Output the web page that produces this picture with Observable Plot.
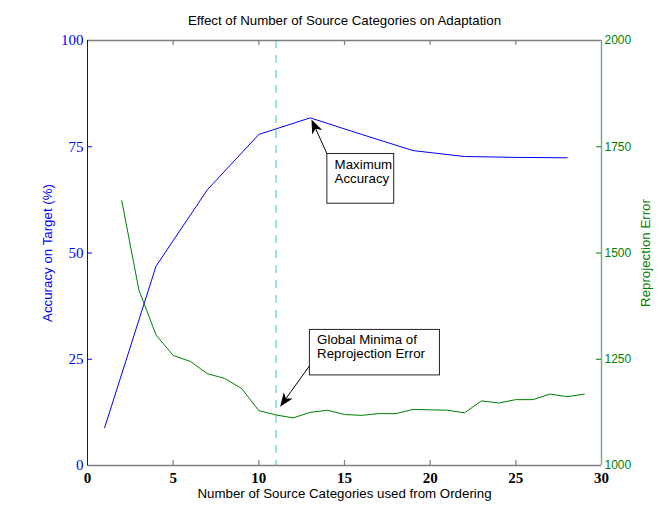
<!DOCTYPE html>
<html><head><meta charset="utf-8">
<script src="https://cdn.jsdelivr.net/npm/d3@7"></script>
<script src="https://cdn.jsdelivr.net/npm/@observablehq/plot@0.6"></script>
<style>html,body{margin:0;padding:0;background:#fff} svg{display:block}</style>
</head><body><div id="chart"></div>
<script>
// ---- data ----
const title = "Effect of Number of Source Categories on Adaptation";
const xLabel = "Number of Source Categories used from Ordering";
const yLeftLabel = "Accuracy on Target (%)";
const yRightLabel = "Reprojection Error";

const xTicks = [0, 5, 10, 15, 20, 25, 30];
const accTicks = [0, 25, 50, 75, 100];
const errTicks = [1000, 1250, 1500, 1750, 2000];

const accX = [1, 4, 7, 10, 13, 16, 19, 22, 25, 28];
const accuracy = [8.9, 46.9, 64.9, 77.9, 81.8, 77.9, 74.1, 72.7, 72.5, 72.4];

const errX = [2,3,4,5,6,7,8,9,10,11,12,13,14,15,16,17,18,19,20,21,22,23,24,25,26,27,28,29];
const reprojError = [1623,1413,1307,1259,1245,1216,1205,1181,1129,1119,1112,1125,1130,1120,1118,1122,1122,1132,1131,1130,1124,1152,1147,1155,1155,1168,1162,1168];

const markerX = [11];

// annotation anchors (data units: x, accuracy %)
const annLabels = ["Maximum\nAccuracy", "Global Minima of\nReprojection Error"];
const annTail = [[14.0, 73.3], [12.98, 23.3]];
const annTip = [[13.1, 81.3], [11.27, 13.7]];
const annBox = [[14.0, 17.9, 73.3, 61.6], [12.98, 20.57, 31.9, 21.2]];
const annText = [[14.42, 72.3], [13.4, 31.1]];

// ---- derived ----
const errToAcc = d3.scaleLinear([1000, 2000], [0, 100]);
const accData = accX.map((x, i) => ({x, y: accuracy[i]}));
const errData = errX.map((x, i) => ({x, y: errToAcc(reprojError[i])}));
const anns = annLabels.map((label, i) => ({
  label,
  tx: annTail[i][0], ty: annTail[i][1],
  px: annTip[i][0], py: annTip[i][1],
  x1: annBox[i][0], x2: annBox[i][1], y1: annBox[i][2], y2: annBox[i][3],
  lx: annText[i][0], ly: annText[i][1]
}));

const BLUE = "#0000ff", GREEN = "#008000", GRAY = "#7f7f7f";
const FS = 13.3;

function arrows(index, scales) {
  const {x, y} = scales;
  const g = d3.create("svg:g");
  for (const a of anns) {
    const x1 = x(a.tx), y1 = y(a.ty), x2 = x(a.px), y2 = y(a.py);
    const ang = Math.atan2(y2 - y1, x2 - x1);
    const L = 14, W = 5.5;
    const c = Math.cos(ang), s = Math.sin(ang);
    const bx = x2 - L * c, by = y2 - L * s;
    const nx = x2 - 0.72 * L * c, ny = y2 - 0.72 * L * s;
    const qx = -s, qy = c;
    g.append("line").attr("x1", x1).attr("y1", y1).attr("x2", nx).attr("y2", ny)
      .attr("stroke", "#000").attr("stroke-width", 1);
    g.append("path")
      .attr("d", `M${x2},${y2}L${bx + W * qx},${by + W * qy}L${nx},${ny}L${bx - W * qx},${by - W * qy}Z`)
      .attr("fill", "#000");
  }
  return g.node();
}

const chart = Plot.plot({
  width: 664,
  height: 523,
  marginLeft: 87,
  marginRight: 63,
  marginTop: 40,
  marginBottom: 58,
  style: {fontFamily: "Liberation Sans, Arial, sans-serif", fontSize: "12px", background: "#fff", overflow: "visible"},
  x: {domain: [0, 30]},
  y: {domain: [0, 100]},
  marks: [
    Plot.ruleX(markerX, {stroke: "#99e3e3", strokeWidth: 2, strokeDasharray: "8,7"}),
    Plot.line(accData, {x: "x", y: "y", stroke: BLUE, strokeWidth: 1}),
    Plot.line(errData, {x: "x", y: "y", stroke: GREEN, strokeWidth: 1}),
    // frame
    Plot.ruleY([0, 100], {stroke: GRAY, strokeWidth: 1.5}),
    Plot.ruleX([0], {stroke: BLUE, strokeWidth: 1}),
    Plot.ruleX([30], {stroke: "#7fa88f", strokeWidth: 1.5}),
    // inward ticks
    Plot.tickX(xTicks.slice(1, -1), {x: d => d, stroke: GRAY, strokeWidth: 1.2, insetTop: 420}),
    Plot.tickX(xTicks.slice(1, -1), {x: d => d, stroke: GRAY, strokeWidth: 1.2, insetBottom: 420}),
    Plot.tickY(accTicks.slice(1, -1), {y: d => d, stroke: BLUE, strokeWidth: 1, insetRight: 509}),
    Plot.tickY(errTicks.slice(1, -1).map(errToAcc), {y: d => d, stroke: GREEN, strokeWidth: 1, insetLeft: 509}),
    // tick labels
    Plot.axisX(xTicks, {tickSize: 0, tickPadding: 7, label: null, fontSize: 15, fontWeight: "bold",
      fontFamily: "Liberation Serif, Times New Roman, serif", fill: "#000"}),
    Plot.axisY(accTicks, {anchor: "left", tickSize: 0, tickPadding: 4, label: null, fontSize: 15,
      fontFamily: "Liberation Serif, Times New Roman, serif", fill: BLUE}),
    Plot.axisY(errTicks.map(errToAcc), {anchor: "right", tickSize: 0, tickPadding: 3, label: null,
      tickFormat: d => String(Math.round(errToAcc.invert(d))), fontSize: 12, fill: GREEN}),
    // titles
    Plot.text([title], {frameAnchor: "top", dy: -20, text: d => d, fontSize: FS, fill: "#000", lineAnchor: "middle"}),
    Plot.text([xLabel], {frameAnchor: "bottom", dy: 28, text: d => d, fontSize: FS, fill: "#000", lineAnchor: "middle"}),
    Plot.text([yLeftLabel], {frameAnchor: "left", dx: -40, rotate: -90, text: d => d, fontSize: FS, fill: BLUE,
      textAnchor: "middle", lineAnchor: "middle"}),
    Plot.text([yRightLabel], {frameAnchor: "right", dx: 44, rotate: -90, text: d => d, fontSize: FS, fill: GREEN,
      textAnchor: "middle", lineAnchor: "middle"}),
    // annotations
    Plot.rect(anns, {x1: "x1", x2: "x2", y1: "y1", y2: "y2", fill: "#fff", stroke: "#222", strokeWidth: 1}),
    Plot.text(anns, {x: "lx", y: "ly", text: "label", textAnchor: "start", lineAnchor: "top", fontSize: FS,
      lineHeight: 1.1, fill: "#000"}),
    arrows
  ]
});
document.getElementById("chart").append(chart);
</script>
</body></html>
